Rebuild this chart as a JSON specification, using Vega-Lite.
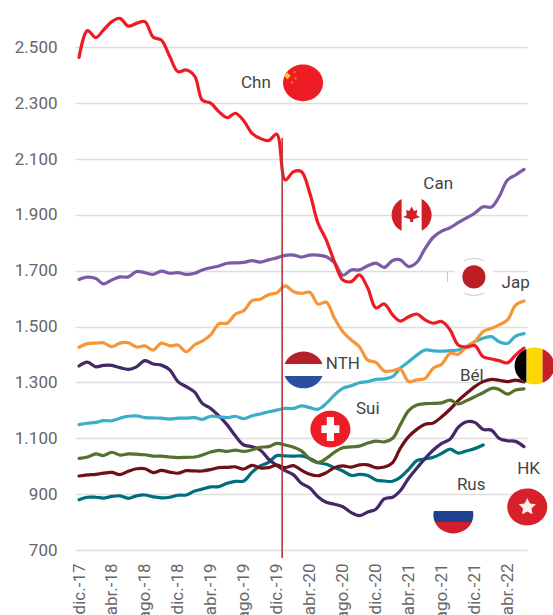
{
"$schema":"https://vega.github.io/schema/vega-lite/v6.json",
"autosize":"none","width":452,"height":550,
"padding":{"left":75,"top":0,"right":26,"bottom":65},
"background":"white",
"config":{"view":{"stroke":null},"font":"Roboto"},
"datasets":{
"series":[
{"date":"2017/12/01","Chn":2464,"Can":1669,"Jap":1426,"NTH":1149,"Sui":1028,"Bel":965,"Rus":880,"HK":1359},
{"date":"2018/01/01","Chn":2560,"Can":1677,"Jap":1439,"NTH":1154,"Sui":1033,"Bel":969,"Rus":889,"HK":1373},
{"date":"2018/02/01","Chn":2535,"Can":1672,"Jap":1441,"NTH":1157,"Sui":1044,"Bel":971,"Rus":889,"HK":1356},
{"date":"2018/03/01","Chn":2562,"Can":1653,"Jap":1442,"NTH":1163,"Sui":1038,"Bel":975,"Rus":886,"HK":1361},
{"date":"2018/04/01","Chn":2592,"Can":1667,"Jap":1428,"NTH":1163,"Sui":1050,"Bel":978,"Rus":892,"HK":1361},
{"date":"2018/05/01","Chn":2604,"Can":1678,"Jap":1441,"NTH":1172,"Sui":1040,"Bel":970,"Rus":894,"HK":1353},
{"date":"2018/06/01","Chn":2576,"Can":1678,"Jap":1442,"NTH":1179,"Sui":1044,"Bel":982,"Rus":885,"HK":1347},
{"date":"2018/07/01","Chn":2586,"Can":1697,"Jap":1427,"NTH":1180,"Sui":1043,"Bel":991,"Rus":894,"HK":1356},
{"date":"2018/08/01","Chn":2592,"Can":1693,"Jap":1431,"NTH":1174,"Sui":1041,"Bel":991,"Rus":897,"HK":1378},
{"date":"2018/09/01","Chn":2536,"Can":1687,"Jap":1416,"NTH":1173,"Sui":1036,"Bel":977,"Rus":890,"HK":1366},
{"date":"2018/10/01","Chn":2526,"Can":1699,"Jap":1441,"NTH":1172,"Sui":1036,"Bel":985,"Rus":887,"HK":1362},
{"date":"2018/11/01","Chn":2467,"Can":1691,"Jap":1431,"NTH":1169,"Sui":1033,"Bel":979,"Rus":889,"HK":1345},
{"date":"2018/12/01","Chn":2413,"Can":1693,"Jap":1434,"NTH":1172,"Sui":1031,"Bel":975,"Rus":896,"HK":1303},
{"date":"2019/01/01","Chn":2419,"Can":1687,"Jap":1410,"NTH":1172,"Sui":1032,"Bel":984,"Rus":897,"HK":1285},
{"date":"2019/02/01","Chn":2397,"Can":1691,"Jap":1435,"NTH":1174,"Sui":1033,"Bel":983,"Rus":911,"HK":1265},
{"date":"2019/03/01","Chn":2311,"Can":1703,"Jap":1448,"NTH":1168,"Sui":1040,"Bel":983,"Rus":918,"HK":1225},
{"date":"2019/04/01","Chn":2300,"Can":1711,"Jap":1470,"NTH":1179,"Sui":1051,"Bel":988,"Rus":926,"HK":1207},
{"date":"2019/05/01","Chn":2270,"Can":1717,"Jap":1510,"NTH":1177,"Sui":1057,"Bel":995,"Rus":927,"HK":1180},
{"date":"2019/06/01","Chn":2248,"Can":1727,"Jap":1512,"NTH":1174,"Sui":1053,"Bel":996,"Rus":939,"HK":1148},
{"date":"2019/07/01","Chn":2264,"Can":1728,"Jap":1544,"NTH":1179,"Sui":1058,"Bel":998,"Rus":946,"HK":1109},
{"date":"2019/08/01","Chn":2237,"Can":1730,"Jap":1557,"NTH":1170,"Sui":1053,"Bel":990,"Rus":947,"HK":1076},
{"date":"2019/09/01","Chn":2192,"Can":1736,"Jap":1593,"NTH":1181,"Sui":1059,"Bel":1003,"Rus":979,"HK":1070},
{"date":"2019/10/01","Chn":2174,"Can":1731,"Jap":1598,"NTH":1187,"Sui":1068,"Bel":994,"Rus":1001,"HK":1058},
{"date":"2019/11/01","Chn":2166,"Can":1739,"Jap":1614,"NTH":1195,"Sui":1070,"Bel":995,"Rus":1014,"HK":1025},
{"date":"2019/12/01","Chn":2189,"Can":1746,"Jap":1621,"NTH":1201,"Sui":1082,"Bel":1004,"Rus":1038,"HK":1003},
{"date":"2020/01/01","Chn":2025,"Can":1755,"Jap":1646,"NTH":1207,"Sui":1076,"Bel":995,"Rus":1037,"HK":984},
{"date":"2020/02/01","Chn":2055,"Can":1756,"Jap":1625,"NTH":1207,"Sui":1068,"Bel":1002,"Rus":1036,"HK":969},
{"date":"2020/03/01","Chn":2055,"Can":1749,"Jap":1619,"NTH":1216,"Sui":1055,"Bel":986,"Rus":1037,"HK":939},
{"date":"2020/04/01","Chn":1978,"Can":1756,"Jap":1623,"NTH":1210,"Sui":1026,"Bel":971,"Rus":1028,"HK":922},
{"date":"2020/05/01","Chn":1871,"Can":1756,"Jap":1581,"NTH":1204,"Sui":1013,"Bel":966,"Rus":1013,"HK":891},
{"date":"2020/06/01","Chn":1810,"Can":1750,"Jap":1587,"NTH":1225,"Sui":1028,"Bel":977,"Rus":1007,"HK":871},
{"date":"2020/07/01","Chn":1732,"Can":1729,"Jap":1530,"NTH":1255,"Sui":1050,"Bel":995,"Rus":995,"HK":864},
{"date":"2020/08/01","Chn":1667,"Can":1684,"Jap":1482,"NTH":1279,"Sui":1066,"Bel":1001,"Rus":983,"HK":855},
{"date":"2020/09/01","Chn":1661,"Can":1703,"Jap":1452,"NTH":1288,"Sui":1069,"Bel":997,"Rus":967,"HK":834},
{"date":"2020/10/01","Chn":1685,"Can":1703,"Jap":1428,"NTH":1299,"Sui":1072,"Bel":1005,"Rus":971,"HK":823},
{"date":"2020/11/01","Chn":1638,"Can":1718,"Jap":1380,"NTH":1303,"Sui":1083,"Bel":1005,"Rus":967,"HK":836},
{"date":"2020/12/01","Chn":1567,"Can":1727,"Jap":1372,"NTH":1311,"Sui":1090,"Bel":995,"Rus":951,"HK":846},
{"date":"2021/01/01","Chn":1581,"Can":1712,"Jap":1341,"NTH":1313,"Sui":1087,"Bel":997,"Rus":947,"HK":883},
{"date":"2021/02/01","Chn":1542,"Can":1737,"Jap":1342,"NTH":1321,"Sui":1100,"Bel":1013,"Rus":946,"HK":889},
{"date":"2021/03/01","Chn":1520,"Can":1739,"Jap":1348,"NTH":1351,"Sui":1148,"Bel":1064,"Rus":960,"HK":912},
{"date":"2021/04/01","Chn":1535,"Can":1715,"Jap":1303,"NTH":1374,"Sui":1199,"Bel":1106,"Rus":989,"HK":957},
{"date":"2021/05/01","Chn":1545,"Can":1730,"Jap":1309,"NTH":1398,"Sui":1219,"Bel":1132,"Rus":1020,"HK":993},
{"date":"2021/06/01","Chn":1524,"Can":1780,"Jap":1315,"NTH":1416,"Sui":1224,"Bel":1150,"Rus":1026,"HK":1028},
{"date":"2021/07/01","Chn":1512,"Can":1820,"Jap":1351,"NTH":1413,"Sui":1225,"Bel":1155,"Rus":1032,"HK":1058},
{"date":"2021/08/01","Chn":1518,"Can":1842,"Jap":1365,"NTH":1412,"Sui":1227,"Bel":1177,"Rus":1046,"HK":1082},
{"date":"2021/09/01","Chn":1488,"Can":1854,"Jap":1404,"NTH":1414,"Sui":1237,"Bel":1204,"Rus":1061,"HK":1097},
{"date":"2021/10/01","Chn":1434,"Can":1872,"Jap":1401,"NTH":1416,"Sui":1223,"Bel":1235,"Rus":1047,"HK":1139},
{"date":"2021/11/01","Chn":1427,"Can":1889,"Jap":1428,"NTH":1428,"Sui":1235,"Bel":1261,"Rus":1055,"HK":1159},
{"date":"2021/12/01","Chn":1432,"Can":1906,"Jap":1446,"NTH":1446,"Sui":1249,"Bel":1285,"Rus":1063,"HK":1157},
{"date":"2022/01/01","Chn":1392,"Can":1929,"Jap":1482,"NTH":1458,"Sui":1263,"Bel":1303,"Rus":1076,"HK":1132},
{"date":"2022/02/01","Chn":1384,"Can":1928,"Jap":1494,"NTH":1464,"Sui":1279,"Bel":1311,"HK":1129},
{"date":"2022/03/01","Chn":1378,"Can":1965,"Jap":1506,"NTH":1446,"Sui":1275,"Bel":1308,"HK":1100},
{"date":"2022/04/01","Chn":1370,"Can":2025,"Jap":1524,"NTH":1440,"Sui":1258,"Bel":1303,"HK":1091},
{"date":"2022/05/01","Chn":1398,"Can":2043,"Jap":1577,"NTH":1466,"Sui":1273,"Bel":1308,"HK":1089},
{"date":"2022/06/01","Chn":1423,"Can":2063,"Jap":1592,"NTH":1475,"Sui":1277,"Bel":1302,"HK":1070}
],
"flags":[
{"flag":"Chn","date":"2020/03/07","value":2373},
{"flag":"Can","date":"2021/04/12","value":1900},
{"flag":"Jap","date":"2021/11/28","value":1678},
{"flag":"NTH","date":"2020/03/09","value":1345},
{"flag":"Bel","date":"2022/07/10","value":1359},
{"flag":"Sui","date":"2020/06/16","value":1133},
{"flag":"Rus","date":"2021/09/13","value":825},
{"flag":"HK","date":"2022/06/13","value":854}
],
"labels":[
{"label":"Chn","date":"2019/09/15","value":2373},
{"label":"Can","date":"2021/07/19","value":2010},
{"label":"Jap","date":"2022/05/01","value":1656},
{"label":"NTH","date":"2020/08/01","value":1367},
{"label":"Sui","date":"2020/11/01","value":1205},
{"label":"Bél","date":"2021/11/20","value":1324},
{"label":"Rus","date":"2021/11/18","value":933},
{"label":"HK","date":"2022/06/18","value":991}
]
},
"encoding":{
"x":{"field":"date","type":"temporal","title":null,
"scale":{"domain":[{"year":2017,"month":11,"date":16},{"year":2022,"month":6,"date":12}]},
"axis":{"domain":false,"ticks":false,"grid":false,"labelAngle":-90,"labelAlign":"right","labelBaseline":"middle","labelPadding":13,"labelFontSize":17,"labelColor":"#666666","labelFont":"Roboto","labelOverlap":false,"labelBound":false,"labelFlush":false,
"values":[{"year":2017,"month":12,"date":1},{"year":2018,"month":4,"date":1},{"year":2018,"month":8,"date":1},{"year":2018,"month":12,"date":1},{"year":2019,"month":4,"date":1},{"year":2019,"month":8,"date":1},{"year":2019,"month":12,"date":1},{"year":2020,"month":4,"date":1},{"year":2020,"month":8,"date":1},{"year":2020,"month":12,"date":1},{"year":2021,"month":4,"date":1},{"year":2021,"month":8,"date":1},{"year":2021,"month":12,"date":1},{"year":2022,"month":4,"date":1}],
"labelExpr":"(month(datum.value)==11?'dic.-':month(datum.value)==3?'abr.-':'ago.-')+timeFormat(datum.value,'%y')"}},
"y":{"field":"value","type":"quantitative","title":null,
"scale":{"domain":[700,2669.6],"nice":false,"zero":false},
"axis":{"domain":false,"ticks":false,"grid":true,"gridColor":"#dedede","gridWidth":1.5,"labelFontSize":17,"labelColor":"#666666","labelFont":"Roboto","labelPadding":18,"labelOverlap":false,
"values":[700,900,1100,1300,1500,1700,1900,2100,2300,2500],
"labelExpr":"replace(format(datum.value,','),',','.')"}}
},
"layer":[
{"data":{"name":"series"},
"transform":[{"fold":["Rus","HK","Bel","Sui","NTH","Jap","Can","Chn"],"as":["serie","value"]}],
"mark":{"type":"line","strokeWidth":3.2,"strokeJoin":"round","strokeCap":"round","interpolate":"catmull-rom"},
"encoding":{"color":{"field":"serie","type":"nominal","legend":null,
"scale":{"domain":["Chn","Can","Jap","NTH","Sui","Bel","Rus","HK"],"range":["#ed1c24","#7b5ba6","#f79637","#3bafca","#56702f","#6f0f17","#006e7d","#432766"]}}}},
{"data":{"values":[{"date":"2019/12/21","value":671,"top":2175}]},
"mark":{"type":"rule","color":"#b5393c","strokeWidth":1.6},
"encoding":{"y2":{"field":"top"}}},
{"data":{"name":"labels"},
"mark":{"type":"text","font":"Roboto","fontSize":17,"color":"#444444","align":"center","baseline":"middle"},
"encoding":{"text":{"field":"label"}}},
{"data":{"name":"flags"},"mark":{"type":"point","filled":true,"opacity":1,"strokeWidth":0,"color":"white","size":1600,"shape":"M-1 0A1 .92 0 1 1 1 0A1 .92 0 1 1 -1 0Z"}},
{"data":{"name":"flags"},"transform":[{"filter":{"field":"flag","oneOf":["Chn","Sui"]}}],"mark":{"type":"point","filled":true,"opacity":1,"strokeWidth":0,"color":"#ee1c25","size":1600,"shape":"M-1 0A1 .92 0 1 1 1 0A1 .92 0 1 1 -1 0Z"}},
{"data":{"name":"flags"},"transform":[{"filter":{"field":"flag","equal":"HK"}}],"mark":{"type":"point","filled":true,"opacity":1,"strokeWidth":0,"color":"#d8202a","size":1600,"shape":"M-1 0A1 .92 0 1 1 1 0A1 .92 0 1 1 -1 0Z"}},
{"data":{"name":"flags"},"transform":[{"filter":{"field":"flag","equal":"Chn"}}],"mark":{"type":"point","filled":true,"opacity":1,"strokeWidth":0,"color":"#f7d117","size":1600,"shape":"M-.78 -.52L-.62 -.35L-.78 -.18L-.94 -.35Z"}},
{"data":{"name":"flags"},"transform":[{"filter":{"field":"flag","equal":"Chn"}}],"mark":{"type":"point","filled":true,"opacity":1,"strokeWidth":0,"color":"#f26a21","size":1600,"shape":"M-.42 -.62L-.34 -.54L-.42 -.46L-.5 -.54ZM-.37 -.3L-.29 -.22L-.37 -.14L-.45 -.22ZM-.55 -.1L-.47 -.02L-.55 .06L-.63 -.02Z"}},
{"data":{"name":"flags"},"transform":[{"filter":{"field":"flag","equal":"Can"}}],"mark":{"type":"point","filled":true,"opacity":1,"strokeWidth":0,"color":"#cf2027","size":1600,"shape":"M-.5 -.797L-.5 .797A1 .92 0 0 1 -.5 -.797ZM.5 -.797A1 .92 0 0 1 .5 .797ZM0 -.42L.12 -.2L.28 -.25L.24 0L.42 .1L.08 .22L.08 .36L-.08 .36L-.08 .22L-.42 .1L-.24 0L-.28 -.25L-.12 -.2Z"}},
{"data":{"name":"flags"},"transform":[{"filter":{"field":"flag","equal":"Jap"}}],"mark":{"type":"point","filled":false,"opacity":1,"strokeWidth":1,"color":"#c8c8c8","size":1600,"shape":"M-.5 -.8A1 .92 0 0 1 .5 -.8M-.5 .8A1 .92 0 0 0 .5 .8M-1.32 -.3L-1.32 .25"}},
{"data":{"name":"flags"},"transform":[{"filter":{"field":"flag","equal":"Jap"}}],"mark":{"type":"point","filled":true,"opacity":1,"strokeWidth":0,"color":"#bb1e23","size":1600,"shape":"M-.58 0A.58 .58 0 1 1 .58 0A.58 .58 0 1 1 -.58 0Z"}},
{"data":{"name":"flags"},"transform":[{"filter":{"field":"flag","equal":"NTH"}}],"mark":{"type":"point","filled":true,"opacity":1,"strokeWidth":0,"color":"#b5212a","size":1600,"shape":"M-.945 -.3A1 .92 0 0 1 .945 -.3Z"}},
{"data":{"name":"flags"},"transform":[{"filter":{"field":"flag","equal":"NTH"}}],"mark":{"type":"point","filled":true,"opacity":1,"strokeWidth":0,"color":"#2b4f9e","size":1600,"shape":"M-.945 .3A1 .92 0 0 0 .945 .3Z"}},
{"data":{"name":"flags"},"transform":[{"filter":{"field":"flag","equal":"Bel"}}],"mark":{"type":"point","filled":true,"opacity":1,"strokeWidth":0,"color":"#000000","size":1600,"shape":"M-.4 -.843L-.4 .843A1 .92 0 0 1 -.4 -.843Z"}},
{"data":{"name":"flags"},"transform":[{"filter":{"field":"flag","equal":"Bel"}}],"mark":{"type":"point","filled":true,"opacity":1,"strokeWidth":0,"color":"#fdd800","size":1600,"shape":"M-.4 -.843A1 .92 0 0 1 .4 -.843L.4 .843A1 .92 0 0 1 -.4 .843Z"}},
{"data":{"name":"flags"},"transform":[{"filter":{"field":"flag","equal":"Bel"}}],"mark":{"type":"point","filled":true,"opacity":1,"strokeWidth":0,"color":"#c8202b","size":1600,"shape":"M.4 -.843A1 .92 0 0 1 .4 .843Z"}},
{"data":{"name":"flags"},"transform":[{"filter":{"field":"flag","equal":"Sui"}}],"mark":{"type":"point","filled":true,"opacity":1,"strokeWidth":0,"color":"#ffffff","size":1600,"shape":"M-.18 -.6L.18 -.6L.18 -.19L.45 -.19L.45 .19L.18 .19L.18 .6L-.18 .6L-.18 .19L-.45 .19L-.45 -.19L-.18 -.19Z"}},
{"data":{"name":"flags"},"transform":[{"filter":{"field":"flag","equal":"Rus"}}],"mark":{"type":"point","filled":true,"opacity":1,"strokeWidth":0,"color":"#20408f","size":1600,"shape":"M-.976 -.2L.976 -.2A1 .92 0 0 1 .925 .35L-.925 .35A1 .92 0 0 1 -.976 -.2Z"}},
{"data":{"name":"flags"},"transform":[{"filter":{"field":"flag","equal":"Rus"}}],"mark":{"type":"point","filled":true,"opacity":1,"strokeWidth":0,"color":"#d01f2a","size":1600,"shape":"M-.925 .35L.925 .35A1 .92 0 0 1 -.925 .35Z"}},
{"data":{"name":"flags"},"transform":[{"filter":{"field":"flag","equal":"HK"}}],"mark":{"type":"point","filled":true,"opacity":0.92,"strokeWidth":0,"color":"#ffffff","size":1600,"shape":"M0 -.45L.13 -.18L.43 -.14L.21 .07L.26 .36L0 .22L-.26 .36L-.21 .07L-.43 -.14L-.13 -.18Z"}}
]
}
